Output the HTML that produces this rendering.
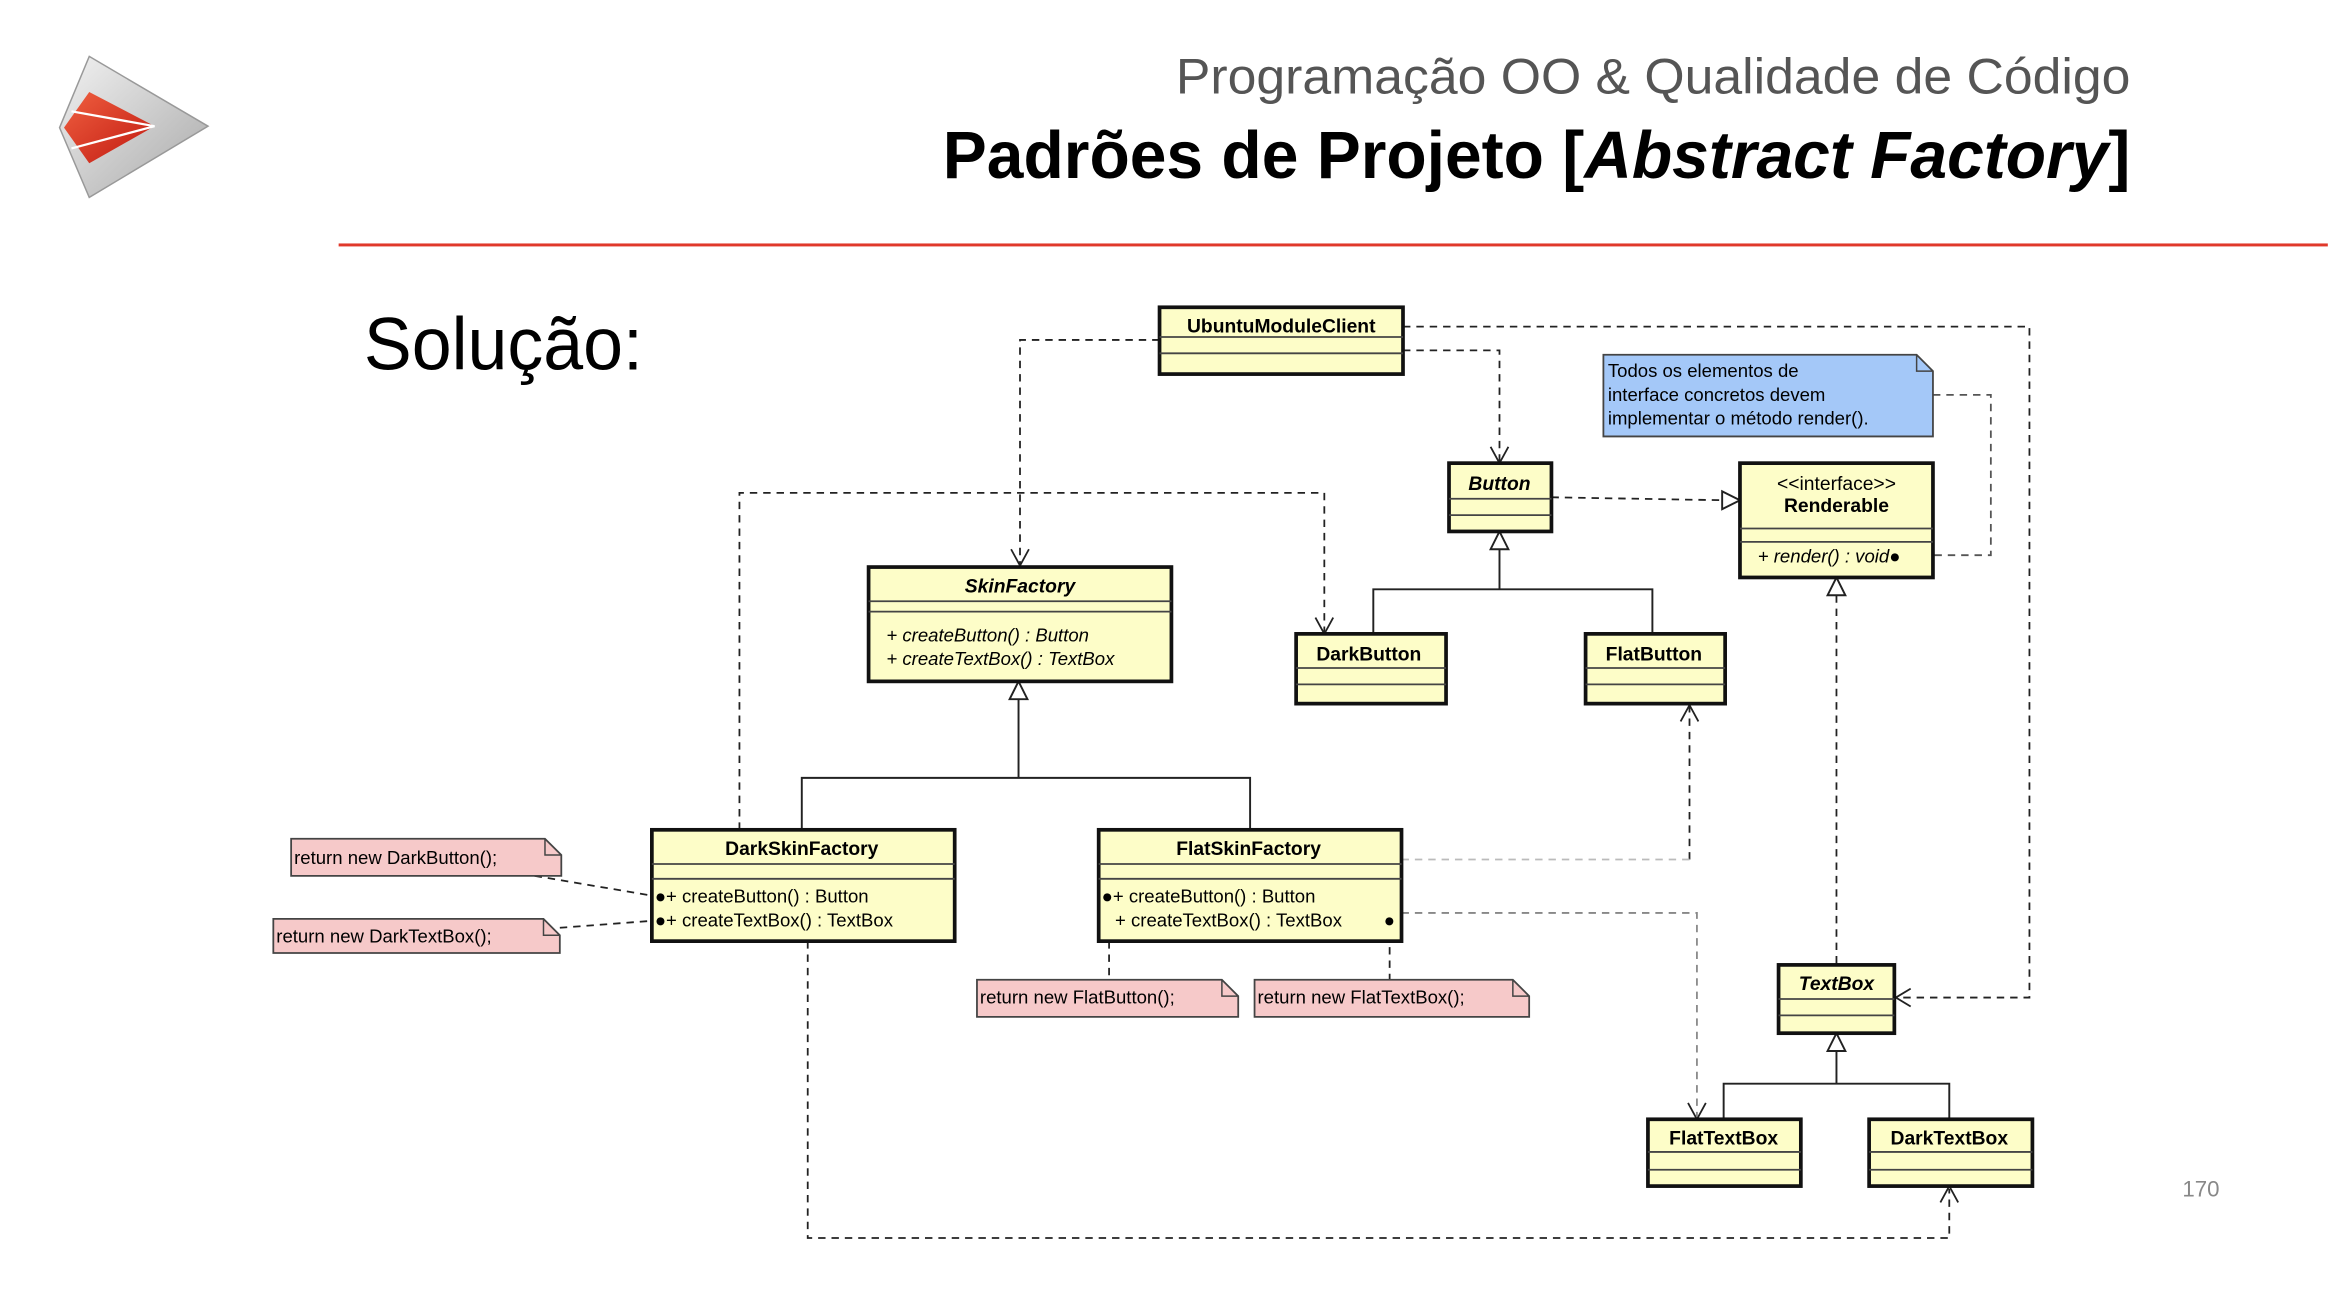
<!DOCTYPE html>
<html><head><meta charset="utf-8"><style>
html,body{margin:0;padding:0;background:#fff;}
svg{display:block;}
text{font-family:"Liberation Sans",sans-serif;}
</style></head><body>
<svg width="2328" height="1290" viewBox="0 0 1568 869" xmlns="http://www.w3.org/2000/svg">
<defs>
<linearGradient id="g1" x1="0" y1="0" x2="1" y2="1"><stop offset="0" stop-color="#f2f2f2"/><stop offset="1" stop-color="#a8a8a8"/></linearGradient>
<linearGradient id="r1" x1="0" y1="0" x2="1" y2="1"><stop offset="0" stop-color="#f06040"/><stop offset="1" stop-color="#c01810"/></linearGradient>
</defs>
<!-- logo -->
<polygon points="60,38 140,85 60,133 40,86" fill="url(#g1)" stroke="#999" stroke-width="1"/>
<polygon points="60,62 104,85 60,110 43,86" fill="url(#r1)"/>
<polyline points="48,75 104,85 48,100" fill="none" stroke="#fff" stroke-width="1.5"/>
<!-- titles -->
<text x="1435" y="63" text-anchor="end" font-size="34" fill="#555" textLength="643" lengthAdjust="spacingAndGlyphs">Programação OO &amp; Qualidade de Código</text>
<text x="1435" y="120" text-anchor="end" font-size="45" font-weight="bold" fill="#000" textLength="800" lengthAdjust="spacingAndGlyphs">Padrões de  Projeto [<tspan font-style="italic">Abstract Factory</tspan>]</text>
<rect x="228" y="164" width="1340" height="2" fill="#e0392b"/>
<text x="245" y="249" font-size="50" fill="#000" textLength="188" lengthAdjust="spacingAndGlyphs">Solução:</text>
<text x="1470" y="806" font-size="15" fill="#888">170</text>

<g fill="none" stroke="#222" stroke-width="1.2" stroke-dasharray="5,4">
<polyline points="781,229 687,229 687,380"/>
<polyline points="945,236 1010,236 1010,311"/>
<polyline points="945,220 1367,220 1367,672 1277,672"/>
<polyline points="498,559 498,332 892,332 892,426"/>
<polyline points="1045,335 1162,337"/>
<polyline points="1302,266 1341,266 1341,374 1298,374" stroke="#555"/>
<polyline points="1237,401 1237,650"/>
<polyline points="1138,579 1138,476"/>
<polyline points="944,615 1143,615 1143,752" stroke="#888"/>
<polyline points="544,634 544,834 1313,834 1313,801"/>
<polyline points="360,590 443,604"/>
<polyline points="377,625 443,620"/>
<polyline points="747,634 747,660"/>
<polyline points="936,620 936,660"/>
</g>
<polyline points="944,579 1138,579" fill="none" stroke="#bbb" stroke-width="1.2" stroke-dasharray="5,4"/>
<!-- open arrowheads -->
<g fill="none" stroke="#222" stroke-width="1.2">
<polyline points="681,370 687,381 693,370"/>
<polyline points="1004,301 1010,312 1016,301"/>
<polyline points="1287,666 1277,672 1287,678"/>
<polyline points="886,416 892,427 898,416"/>
<polyline points="1132,486 1138,475 1144,486"/>
<polyline points="1137,743 1143,754 1149,743"/>
<polyline points="1307,810 1313,799 1319,810"/>
</g>
<!-- generalization lines -->
<g fill="none" stroke="#222" stroke-width="1.3">
<polyline points="1010,370 1010,397"/><polyline points="925,427 925,397 1113,397 1113,427"/>
<polyline points="686,471 686,524"/><polyline points="540,559 540,524 842,524 842,559"/>
<polyline points="1237,708 1237,730"/><polyline points="1161,754 1161,730 1313,730 1313,754"/>
</g>
<g fill="#fff" stroke="#222" stroke-width="1.3">
<polygon points="1010,358 1004,370 1016,370"/>
<polygon points="686,459 680,471 692,471"/>
<polygon points="1237,389 1231,401 1243,401"/>
<polygon points="1237,696 1231,708 1243,708"/>
<polygon points="1172,337 1160,331 1160,343"/>
</g>

<!-- classes -->
<g stroke="#111" fill="#fdfdc8">
<rect x="781" y="207" width="164" height="45" stroke-width="2.5"/>
<rect x="976" y="312" width="69" height="46" stroke-width="2.5"/>
<rect x="1172" y="312" width="130" height="77" stroke-width="2.5"/>
<rect x="585" y="382" width="204" height="77" stroke-width="2.5"/>
<rect x="873" y="427" width="101" height="47" stroke-width="2.5"/>
<rect x="1068" y="427" width="94" height="47" stroke-width="2.5"/>
<rect x="439" y="559" width="204" height="75" stroke-width="2.5"/>
<rect x="740" y="559" width="204" height="75" stroke-width="2.5"/>
<rect x="1198" y="650" width="78" height="46" stroke-width="2.5"/>
<rect x="1110" y="754" width="103" height="45" stroke-width="2.5"/>
<rect x="1259" y="754" width="110" height="45" stroke-width="2.5"/>
</g>
<g stroke="#444" stroke-width="1.2">
<line x1="781" y1="227" x2="945" y2="227"/><line x1="781" y1="238" x2="945" y2="238"/>
<line x1="976" y1="336" x2="1045" y2="336"/><line x1="976" y1="347" x2="1045" y2="347"/>
<line x1="1172" y1="356" x2="1302" y2="356"/><line x1="1172" y1="365" x2="1302" y2="365"/>
<line x1="585" y1="405" x2="789" y2="405"/><line x1="585" y1="412" x2="789" y2="412"/>
<line x1="873" y1="450" x2="974" y2="450"/><line x1="873" y1="461" x2="974" y2="461"/>
<line x1="1068" y1="450" x2="1162" y2="450"/><line x1="1068" y1="461" x2="1162" y2="461"/>
<line x1="439" y1="582" x2="643" y2="582"/><line x1="439" y1="592" x2="643" y2="592"/>
<line x1="740" y1="582" x2="944" y2="582"/><line x1="740" y1="592" x2="944" y2="592"/>
<line x1="1198" y1="673" x2="1276" y2="673"/><line x1="1198" y1="684" x2="1276" y2="684"/>
<line x1="1110" y1="776" x2="1213" y2="776"/><line x1="1110" y1="788" x2="1213" y2="788"/>
<line x1="1259" y1="776" x2="1369" y2="776"/><line x1="1259" y1="788" x2="1369" y2="788"/>
</g>
<g font-size="13" fill="#000" text-anchor="middle" font-weight="bold">
<text x="863" y="224">UbuntuModuleClient</text>
<text x="1010" y="330" font-style="italic">Button</text>
<text x="1237" y="330" font-weight="normal">&lt;&lt;interface&gt;&gt;</text>
<text x="1237" y="345">Renderable</text>
<text x="687" y="399" font-style="italic">SkinFactory</text>
<text x="922" y="445">DarkButton</text>
<text x="1114" y="445">FlatButton</text>
<text x="540" y="576">DarkSkinFactory</text>
<text x="841" y="576">FlatSkinFactory</text>
<text x="1237" y="667" font-style="italic">TextBox</text>
<text x="1161" y="771">FlatTextBox</text>
<text x="1313" y="771">DarkTextBox</text>
</g>
<g font-size="12.5" fill="#000">
<text x="1184" y="379" font-style="italic">+ render() : void●</text>
<text x="597" y="432" font-style="italic">+ createButton() : Button</text>
<text x="597" y="448" font-style="italic">+ createTextBox() : TextBox</text>
<text x="441" y="608">●+ createButton() : Button</text>
<text x="441" y="624">●+ createTextBox() : TextBox</text>
<text x="742" y="608">●+ createButton() : Button</text>
<text x="751" y="624">+ createTextBox() : TextBox</text>
<text x="932" y="624">●</text>
</g>
<!-- notes -->
<g stroke="#444" stroke-width="1.2">
<path d="M1080,239 H1291 L1302,250 V294 H1080 Z" fill="#a4c8f8"/>
<path d="M196,565 H367 L378,576 V590 H196 Z" fill="#f6c9c9"/>
<path d="M184,619 H366 L377,630 V642 H184 Z" fill="#f6c9c9"/>
<path d="M658,660 H823 L834,671 V685 H658 Z" fill="#f6c9c9"/>
<path d="M845,660 H1019 L1030,671 V685 H845 Z" fill="#f6c9c9"/>
</g>
<g fill="none" stroke="#444" stroke-width="1">
<polyline points="1291,239 1291,250 1302,250"/>
<polyline points="367,565 367,576 378,576"/>
<polyline points="366,619 366,630 377,630"/>
<polyline points="823,660 823,671 834,671"/>
<polyline points="1019,660 1019,671 1030,671"/>
</g>
<g font-size="12.5" fill="#000">
<text x="1083" y="254">Todos os elementos de</text>
<text x="1083" y="270">interface concretos devem</text>
<text x="1083" y="286">implementar o método render().</text>
<text x="198" y="582">return new DarkButton();</text>
<text x="186" y="635">return new DarkTextBox();</text>
<text x="660" y="676">return new FlatButton();</text>
<text x="847" y="676">return new FlatTextBox();</text>
</g>
</svg>
</body></html>
